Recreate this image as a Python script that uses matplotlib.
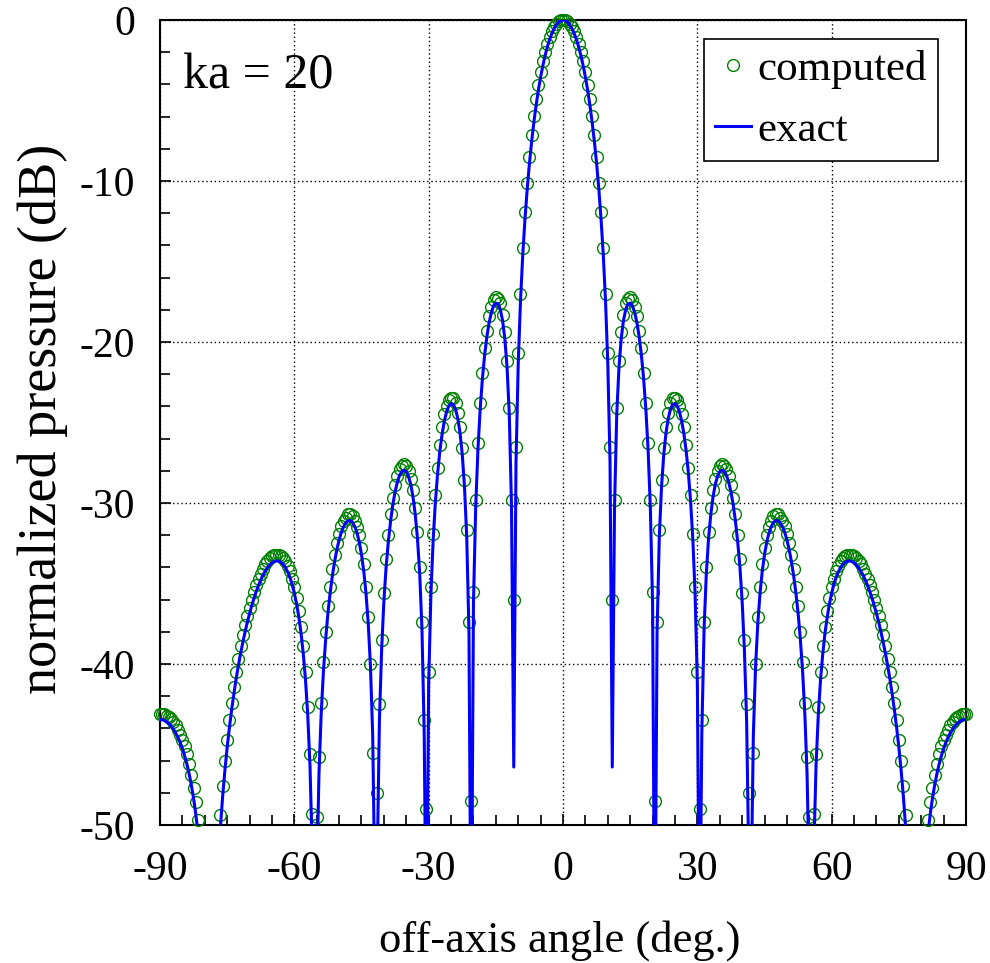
import matplotlib.pyplot as plt
import numpy as np

plt.rcParams['font.family'] = ['Liberation Serif', 'DejaVu Serif']
plt.rcParams['axes.unicode_minus'] = False

# off-axis angle grid, 0.5 deg steps from -90 to 90
angles = np.linspace(-90, 90, 361)

# pattern is symmetric: values read for 0, 0.5, ..., 90 deg (dB)
exact_half = [
    0.00, -0.03, -0.13, -0.30, -0.53, -0.84, -1.22, -1.67, -2.21, -2.83,
    -3.54, -4.35, -5.28, -6.33, -7.53, -8.91, -10.51, -12.38, -14.62, -17.50,
    -21.33, -27.48, -46.40, -30.27, -24.47, -21.55, -19.77, -18.66, -17.98, -17.64,
    -17.58, -17.75, -18.16, -18.79, -19.66, -20.81, -22.28, -24.18, -26.68, -30.26,
    -36.20, -60.16, -38.05, -32.12, -28.99, -26.98, -25.64, -24.74, -24.18, -23.88,
    -23.82, -23.97, -24.33, -24.91, -25.71, -26.77, -28.15, -29.93, -32.31, -35.67,
    -41.21, -59.03, -44.26, -37.81, -34.40, -32.21, -30.71, -29.62, -28.84, -28.35,
    -28.05, -27.96, -28.04, -28.29, -28.71, -29.30, -30.09, -31.12, -32.38, -33.95,
    -36.10, -39.07, -43.50, -52.56, -54.36, -44.43, -40.14, -37.46, -35.59, -34.22,
    -33.20, -32.42, -31.86, -31.46, -31.21, -31.09, -31.10, -31.23, -31.47, -31.82,
    -32.29, -32.89, -33.63, -34.51, -35.58, -36.85, -38.46, -40.45, -43.08, -46.85,
    -53.55, -70.96, -51.71, -46.34, -43.20, -41.00, -39.37, -38.09, -37.08, -36.25,
    -35.59, -35.04, -34.61, -34.27, -34.00, -33.81, -33.68, -33.61, -33.60, -33.63,
    -33.72, -33.84, -34.02, -34.23, -34.48, -34.78, -35.12, -35.49, -35.91, -36.37,
    -36.87, -37.41, -38.01, -38.65, -39.35, -40.11, -40.93, -41.86, -42.84, -43.95,
    -45.18, -46.59, -48.20, -50.12, -52.48, -55.60, -60.22, -69.90, -70.29, -60.91,
    -56.69, -54.00, -52.05, -50.54, -49.33, -48.34, -47.51, -46.81, -46.21, -45.70,
    -45.25, -44.87, -44.55, -44.28, -44.05, -43.86, -43.71, -43.59, -43.51, -43.46,
    -43.45,
]

computed_half = [
    0.0, 0.0, -0.08, -0.22, -0.42, -0.70, -1.05, -1.46, -1.97, -2.56,
    -3.24, -4.02, -4.93, -5.96, -7.15, -8.51, -10.1, -11.95, -14.15, -17.0,
    -20.7, -26.5, -36.0, -29.8, -24.1, -21.2, -19.4, -18.3, -17.6, -17.3,
    -17.2, -17.4, -17.8, -18.4, -19.3, -20.4, -21.9, -23.8, -26.3, -29.8,
    -35.5, -48.5, -37.4, -31.7, -28.6, -26.6, -25.3, -24.4, -23.8, -23.5,
    -23.5, -23.6, -24.0, -24.5, -25.3, -26.4, -27.8, -29.5, -31.9, -35.2,
    -40.5, -49.0, -43.5, -37.4, -34.0, -31.8, -30.3, -29.2, -28.5, -28.0,
    -27.7, -27.6, -27.7, -27.9, -28.3, -28.9, -29.7, -30.7, -32.0, -33.5,
    -35.6, -38.5, -42.5, -48.0, -52.0, -45.5, -40.0, -37.1, -35.2, -33.8,
    -32.8, -32.0, -31.5, -31.1, -30.8, -30.7, -30.7, -30.9, -31.1, -31.4,
    -31.9, -32.5, -33.2, -34.1, -35.2, -36.4, -38.0, -39.9, -42.4, -45.8,
    -49.5, -55.0, -49.3, -45.6, -42.7, -40.5, -38.9, -37.7, -36.7, -35.9,
    -35.2, -34.7, -34.2, -33.9, -33.6, -33.4, -33.3, -33.2, -33.2, -33.2,
    -33.3, -33.4, -33.6, -33.8, -34.1, -34.4, -34.7, -35.1, -35.5, -36.0,
    -36.5, -37.0, -37.6, -38.2, -38.9, -39.7, -40.5, -41.4, -42.4, -43.5,
    -44.7, -46.0, -47.6, -49.4, -51.5, -54.0, -57.0, -60.0, -60.0, -56.0,
    -54.0, -52.5, -51.0, -49.7, -48.6, -47.7, -46.9, -46.2, -45.6, -45.1,
    -44.7, -44.4, -44.1, -43.8, -43.6, -43.4, -43.3, -43.2, -43.1, -43.1,
    -43.1,
]


def mirror(half):
    half = np.asarray(half, dtype=float)
    return np.concatenate([half[:0:-1], half])


exact = mirror(exact_half)
computed = mirror(computed_half)

fig = plt.figure(figsize=(9.9, 9.63), dpi=100)
ax = fig.add_axes([0.1616, 0.1433, 0.8142, 0.8359])

# circles inside the plotting range are drawn unclipped (edge points stick out)
shown = computed >= -50
ax.plot(angles[shown], computed[shown], 'o', mfc='none', mec='green',
        ms=8.5, mew=1.0, label='computed', clip_on=False, zorder=3)
ax.plot(angles, exact, '-', color='blue', lw=2.2, label='exact', zorder=4)

ax.set_xlim(-90, 90)
ax.set_ylim(-50, 0)
ax.set_xticks(np.arange(-90, 91, 30))
ax.set_yticks(np.arange(-50, 1, 10))
ax.set_xticks(np.arange(-90, 91, 5), minor=True)
ax.set_yticks(np.arange(-50, 1, 2), minor=True)
ax.tick_params(which='both', direction='in', top=False, right=False,
               width=1.2, labelsize=30)
ax.tick_params(which='major', length=8)
ax.tick_params(which='minor', length=7)
ax.tick_params(axis='x', pad=18)
ax.tick_params(axis='y', pad=18)
ax.grid(True, which='major', color='black', linestyle=(0, (1, 2)), linewidth=1)
for sp in ax.spines.values():
    sp.set_linewidth(1.5)

ax.text(0.0285, 0.9155, 'ka = 20', transform=ax.transAxes, fontsize=36,
        ha='left', va='baseline')

ax.set_xlabel('off-axis angle (deg.)', fontsize=32, va='center')
ax.xaxis.set_label_coords(0.496, -0.143)
ax.set_ylabel('normalized pressure (dB)', fontsize=39, va='center')
ax.yaxis.set_label_coords(-0.146, 0.505)

leg = ax.legend(loc='upper right', bbox_to_anchor=(0.965, 0.976),
                borderaxespad=0, fontsize=31, fancybox=False, framealpha=1,
                edgecolor='black', handlelength=0.85, handletextpad=0.15,
                borderpad=0.25, labelspacing=0.5, numpoints=1)
leg.get_frame().set_linewidth(1.2)

fig.savefig('out.png', dpi=100)
